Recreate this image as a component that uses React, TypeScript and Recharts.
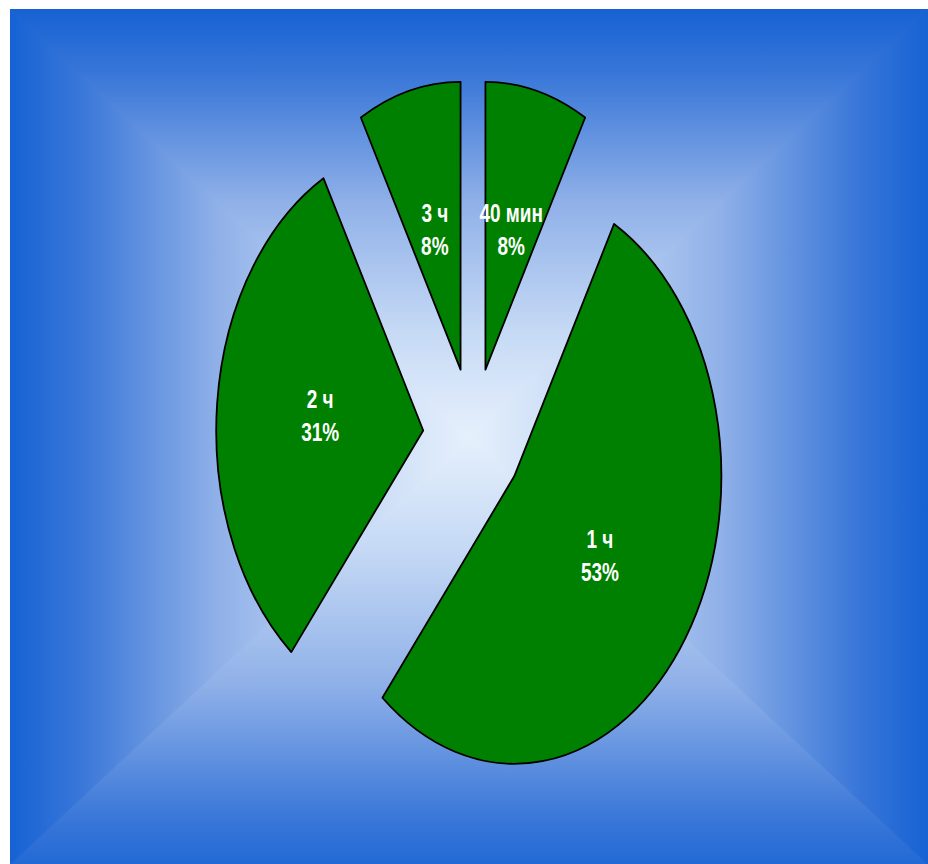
import React from 'react';
import { PieChart, Pie, Cell } from 'recharts';

// Slices, clockwise from 12 o'clock
const categories = ['40 мин', '1 ч', '2 ч', '3 ч'];
const shares = [8, 53, 31, 8];

const data = categories.map((name, i) => ({ name, value: shares[i] }));

const RAD = Math.PI / 180;
const STRETCH = 1.39; // the pie is drawn as a tall ellipse
const EXPLODE = 50; // how far each slice is pulled out

// point at radius r / angle a for a slice pulled out along its mid angle
function place(cx: number, cy: number, mid: number, r: number, a: number) {
  const ox = EXPLODE * Math.cos(mid * RAD) + r * Math.cos(a * RAD);
  const oy = -EXPLODE * Math.sin(mid * RAD) - r * Math.sin(a * RAD);
  return [cx + ox, cy + oy * STRETCH];
}

const ExplodedSlice = (props: any) => {
  const { cx, cy, outerRadius, startAngle, endAngle, fill } = props;
  const mid = (startAngle + endAngle) / 2;
  const tip = place(cx, cy, mid, 0, 0);
  const a = place(cx, cy, mid, outerRadius, startAngle);
  const b = place(cx, cy, mid, outerRadius, endAngle);
  const large = Math.abs(startAngle - endAngle) > 180 ? 1 : 0;
  const sweep = startAngle > endAngle ? 1 : 0;
  const d = `M${tip[0]},${tip[1]} L${a[0]},${a[1]} A${outerRadius},${outerRadius * STRETCH} 0 ${large} ${sweep} ${b[0]},${b[1]} Z`;
  return <path d={d} fill={fill} stroke="#000" strokeWidth={1.8} strokeLinejoin="round" />;
};

const labelStyle = {
  fontFamily: '"Liberation Sans", Arial, sans-serif',
  fontWeight: 'bold' as const,
  fontSize: 25,
};

// Arial-narrow look: squeeze the bold sans horizontally
const LabelLine = ({ x, y, children }: any) => (
  <text
    transform={`translate(${x},${y}) scale(0.76,1)`}
    fill="#fff"
    textAnchor="middle"
    dominantBaseline="central"
    style={labelStyle}
  >
    {children}
  </text>
);

const renderLabel = (props: any) => {
  const { cx, cy, midAngle, outerRadius, name, percent } = props;
  const [x, y] = place(cx, cy, midAngle, outerRadius * 0.5, midAngle);
  return (
    <g>
      <LabelLine x={x} y={y - 17}>{name}</LabelLine>
      <LabelLine x={x} y={y + 16}>{Math.round(percent * 100)}%</LabelLine>
    </g>
  );
};

// blue "from centre" rectangular gradient panel behind the chart
function Backdrop() {
  const L = 10, T = 9, R = 928, B = 864;
  const mx = (L + R) / 2, my = (T + B) / 2;
  const stops = (
    <>
      <stop offset="0" stopColor="#1662d4" />
      <stop offset="0.15" stopColor="#3876d8" />
      <stop offset="0.45" stopColor="#8fb0e8" />
      <stop offset="0.75" stopColor="#c5d9f5" />
      <stop offset="1" stopColor="#e6f0fc" />
    </>
  );
  const tri = [
    { id: 'gTop', pts: `${L},${T} ${R},${T} ${mx},${my}` },
    { id: 'gBottom', pts: `${L},${B} ${R},${B} ${mx},${my}` },
    { id: 'gLeft', pts: `${L},${T} ${L},${B} ${mx},${my}` },
    { id: 'gRight', pts: `${R},${T} ${R},${B} ${mx},${my}` },
  ];
  return (
    <svg width={928} height={864} style={{ position: 'absolute', left: 0, top: 0 }}>
      <defs>
        <linearGradient id="gTop" gradientUnits="userSpaceOnUse" x1={0} y1={T} x2={0} y2={my}>{stops}</linearGradient>
        <linearGradient id="gBottom" gradientUnits="userSpaceOnUse" x1={0} y1={B + 25} x2={0} y2={my}>{stops}</linearGradient>
        <linearGradient id="gLeft" gradientUnits="userSpaceOnUse" x1={L} y1={0} x2={mx} y2={0}>{stops}</linearGradient>
        <linearGradient id="gRight" gradientUnits="userSpaceOnUse" x1={R} y1={0} x2={mx} y2={0}>{stops}</linearGradient>
        <clipPath id="panel">
          <rect x={L} y={T} width={R - L} height={B - T} />
        </clipPath>
      </defs>
      <rect x={0} y={0} width={928} height={864} fill="#fff" />
      <g clipPath="url(#panel)">
        {tri.map((t) => (
          <polygon key={t.id} points={t.pts} fill={`url(#${t.id})`} stroke={`url(#${t.id})`} strokeWidth={1.2} />
        ))}
      </g>
    </svg>
  );
}

export default function App() {
  return (
    <div style={{ position: 'absolute', left: 0, top: 0, width: 928, height: 864 }}>
      <Backdrop />
      <div style={{ position: 'absolute', left: 0, top: 0 }}>
        <PieChart width={928} height={864} margin={{ top: 0, right: 0, bottom: 0, left: 0 }}>
          <Pie
            data={data}
            dataKey="value"
            nameKey="name"
            cx={473}
            cy={437}
            outerRadius={207}
            startAngle={90}
            endAngle={-270}
            stroke="none"
            shape={ExplodedSlice}
            inactiveShape={ExplodedSlice}
            activeShape={ExplodedSlice}
            label={renderLabel}
            labelLine={false}
            isAnimationActive={false}
          >
            {data.map((entry) => (
              <Cell key={entry.name} fill="#008000" />
            ))}
          </Pie>
        </PieChart>
      </div>
    </div>
  );
}
